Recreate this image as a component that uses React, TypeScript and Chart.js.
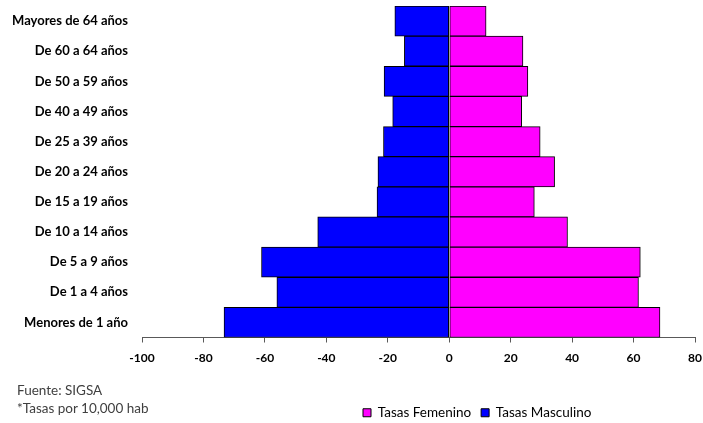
import { useEffect, useRef } from 'react';
import { Chart, registerables } from 'chart.js';

Chart.register(...registerables);

const categories = [
  'Mayores de 64 años',
  'De 60 a 64 años',
  'De 50 a 59 años',
  'De 40 a 49 años',
  'De 25 a 39 años',
  'De 20 a 24 años',
  'De 15 a 19 años',
  'De 10 a 14 años',
  'De 5 a 9 años',
  'De 1 a 4 años',
  'Menores de 1 año',
];
const femenino = [12.0, 24.0, 25.6, 23.6, 29.6, 34.3, 27.7, 38.5, 62.2, 61.6, 68.6];
const masculino = [-17.7, -14.6, -21.2, -18.4, -21.4, -23.2, -23.5, -42.8, -61.1, -56.1, -73.3];
const xMin = -100;
const xMax = 80;
const xStep = 20;
const footnotes = ['Fuente: SIGSA', '*Tasas por 10,000 hab'];

const FONT = 'Lato, "Liberation Sans", sans-serif';

export default function App() {
  const ref = useRef<HTMLCanvasElement | null>(null);

  useEffect(() => {
    document.body.style.margin = '0';
    const canvas = ref.current;
    if (!canvas) return;

    const legendPlacer = {
      id: 'legendPlacer',
      afterLayout(chart: any) {
        const lg = chart.legend;
        if (!lg) return;
        const h = lg.height;
        lg.left = 353;
        lg.right = 703;
        lg.top = 396;
        lg.bottom = 396 + h;
      },
    };

    const chart = new Chart(canvas, {
      type: 'bar',
      data: {
        labels: categories,
        datasets: [
          {
            label: 'Tasas Femenino',
            data: femenino,
            backgroundColor: '#FF00FF',
            borderColor: '#000000',
            borderWidth: 1,
            borderSkipped: false,
            barPercentage: 1,
            categoryPercentage: 1,
          },
          {
            label: 'Tasas Masculino',
            data: masculino,
            backgroundColor: '#0000FF',
            borderColor: '#000000',
            borderWidth: 1,
            borderSkipped: false,
            barPercentage: 1,
            categoryPercentage: 1,
          },
        ],
      },
      options: {
        indexAxis: 'y',
        animation: false,
        responsive: false,
        maintainAspectRatio: false,
        layout: { padding: { top: 6, right: 8, left: 0, bottom: 22 } },
        scales: {
          x: {
            stacked: true,
            min: xMin,
            max: xMax,
            ticks: {
              stepSize: xStep,
              color: '#000',
              font: { family: FONT, size: 12, weight: 'bold' },
              padding: 8,
            },
            grid: {
              display: true,
              drawOnChartArea: false,
              drawTicks: true,
              tickLength: 5,
              color: '#595959',
            },
            border: { display: true, color: '#595959', width: 1 },
            afterFit(scale: any) {
              scale.height = 30;
              scale.paddingLeft = 0;
              scale.paddingRight = 0;
            },
          },
          y: {
            stacked: true,
            ticks: {
              color: '#000',
              font: { family: FONT, size: 13, weight: 'bold' },
              padding: 14,
            },
            grid: { display: false, drawTicks: false },
            border: { display: false },
            afterFit(scale: any) {
              scale.width = 142;
              scale.paddingTop = 0;
              scale.paddingBottom = 0;
            },
          },
        },
        plugins: {
          legend: {
            display: true,
            position: 'bottom',
            align: 'start',
            labels: {
              boxWidth: 8,
              boxHeight: 8,
              padding: 10,
              color: '#000',
              font: { family: FONT, size: 13.5 },
            },
          },
          tooltip: { enabled: false },
        },
      },
      plugins: [legendPlacer],
    } as any);

    return () => chart.destroy();
  }, []);

  return (
    <div style={{ position: 'relative', width: 703, height: 423, background: '#fff' }}>
      <canvas ref={ref} width={703} height={423} style={{ width: 703, height: 423, display: 'block' }} />
      {footnotes.map((t, i) => (
        <div
          key={t}
          style={{
            position: 'absolute',
            left: 17,
            top: 382 + i * 18,
            fontFamily: FONT,
            fontSize: 13.5,
            lineHeight: '16px',
            color: '#404040',
            whiteSpace: 'nowrap',
          }}
        >
          {t}
        </div>
      ))}
    </div>
  );
}
